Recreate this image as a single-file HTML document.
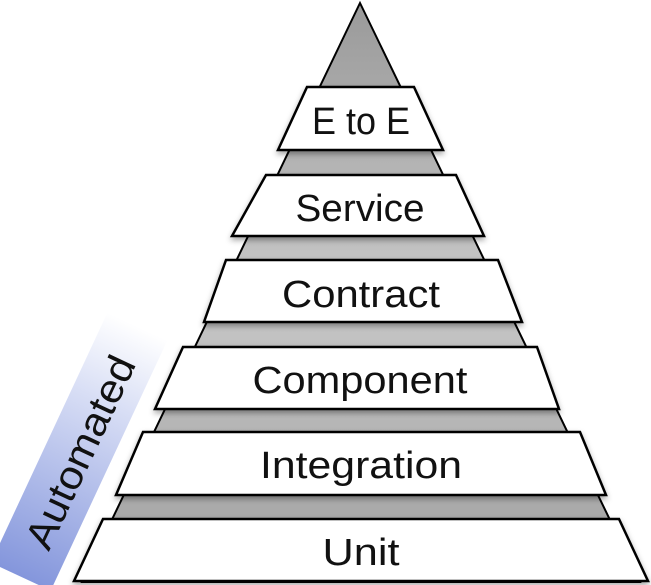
<!DOCTYPE html>
<html><head><style>body{margin:0;background:#fff}svg{display:block}</style></head><body>
<svg width="651" height="585" viewBox="0 0 651 585" xmlns="http://www.w3.org/2000/svg">
<defs>
<linearGradient id="g" x1="0" y1="0" x2="0" y2="1"><stop offset="0" stop-color="#9a9a9a"/><stop offset="0.5" stop-color="#c8c8c8"/><stop offset="1" stop-color="#a0a0a0"/></linearGradient>
<linearGradient id="b" x1="0" y1="0" x2="1" y2="0"><stop offset="0" stop-color="#8496dc"/><stop offset="0.7" stop-color="#d8def5"/><stop offset="1" stop-color="#ffffff"/></linearGradient>
<filter id="s" x="-10%" y="-10%" width="120%" height="140%"><feDropShadow dx="0" dy="3" stdDeviation="3" flood-color="#000" flood-opacity="0.35"/></filter>
</defs>
<g transform="translate(80,452) rotate(-65)">
<rect x="-138" y="-34" width="276" height="66" fill="url(#b)"/>
<text x="0" y="14" text-anchor="middle" font-family="Liberation Sans, sans-serif" font-size="40" textLength="208" lengthAdjust="spacingAndGlyphs" fill="#111">Automated</text>
</g>
<polygon points="360,3 82,582 640,582" fill="url(#g)" stroke="#000" stroke-width="2"/>
<g fill="#fff" stroke="#000" stroke-width="2.5" filter="url(#s)">
<polygon points="307,87 414,87 443,150 278,150"/>
<polygon points="266,175 456,175 484,236 232,236"/>
<polygon points="226,260 498,260 522,322 204,322"/>
<polygon points="183,347 537,347 559,409 155,409"/>
<polygon points="143,432 580,432 606,495 116,495"/>
<polygon points="103,519 619,519 648,581 74,581"/>
</g>
<g font-family="Liberation Sans, sans-serif" font-size="38" text-anchor="middle" fill="#111">
<text x="361" y="134" textLength="98" lengthAdjust="spacingAndGlyphs">E to E</text>
<text x="360" y="221" textLength="129" lengthAdjust="spacingAndGlyphs">Service</text>
<text x="361" y="307" textLength="158" lengthAdjust="spacingAndGlyphs">Contract</text>
<text x="360" y="393" textLength="215" lengthAdjust="spacingAndGlyphs">Component</text>
<text x="361" y="478" textLength="202" lengthAdjust="spacingAndGlyphs">Integration</text>
<text x="361" y="565" textLength="77" lengthAdjust="spacingAndGlyphs">Unit</text>
</g>
</svg>
</body></html>
